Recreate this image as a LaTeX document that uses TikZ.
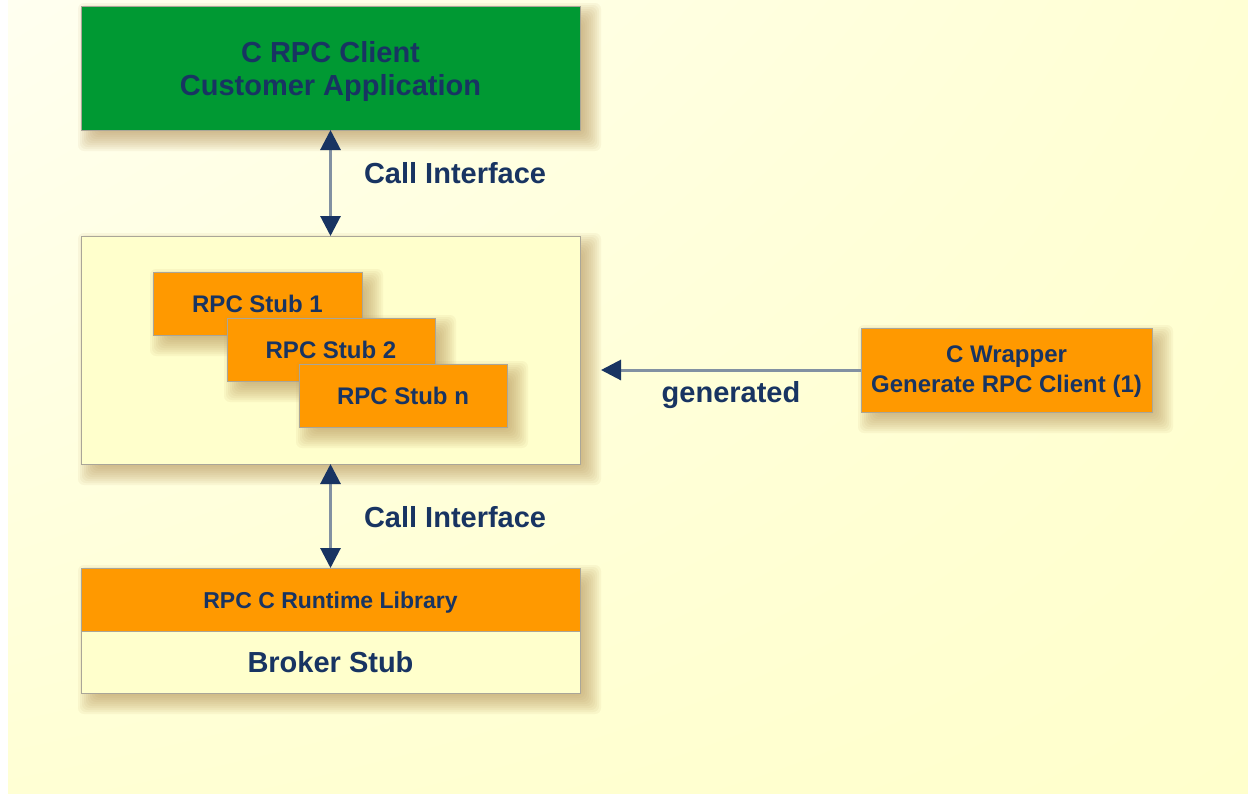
\documentclass[tikz,border=0pt]{standalone}
\usepackage{fontspec}
\setmainfont{Liberation Sans}
\usetikzlibrary{arrows.meta,calc,shadings}
\definecolor{navy}{RGB}{24,52,98}
\definecolor{shaft}{RGB}{130,145,162}
\definecolor{greenfill}{RGB}{0,153,51}
\definecolor{orangefill}{RGB}{255,153,0}
\definecolor{creamfill}{RGB}{255,255,204}
\definecolor{boxline}{RGB}{170,166,152}
\definecolor{shadowc}{RGB}{180,145,85}
\definecolor{bgA}{RGB}{255,255,240}
\definecolor{bgB}{RGB}{255,255,212}
\definecolor{bgC}{RGB}{255,255,204}

\newcommand\dropshadow[2]{%
  \foreach \sr [evaluate=\sr as \sa using 9-\sr, evaluate=\sr as \sb using 9+\sr] in {-10,-8,...,12}{%
    \fill[shadowc, fill opacity=0.078, rounded corners=6pt] ($(#1)+(\sa,\sa)$) rectangle ($(#2)+(\sb,\sb)$);
  }%
}
\newcommand\sinktext[2]{\raisebox{-#1pt}[\height][\depth]{#2}}

\begin{document}
\begin{tikzpicture}[x=1pt,y=-1pt,
  every node/.style={text=navy, font=\bfseries},
  bigtxt/.style={font=\bfseries\fontsize{29}{33}\selectfont},
  smalltxt/.style={font=\bfseries\fontsize{24}{30}\selectfont},
  panel/.style={draw=boxline, line width=1pt, inner sep=0pt, outer sep=0pt, align=center},
  conn/.style={draw=shaft, line width=3pt},
  tip/.tip={Triangle[length=20pt, width=20pt, color=navy]},
  lbl/.style={bigtxt, anchor=west, inner sep=0pt, xshift=32pt}
]
\useasboundingbox (0,0) rectangle (1248,793);
\fill[white] (0,0) rectangle (8,793);
\shade[upper left=bgA, upper right=bgB, lower left=bgB, lower right=bgC] (8,0) rectangle (1248,793);

\dropshadow{81,6}{580,130}
\node[panel, fill=greenfill, bigtxt, minimum width=499, minimum height=124] (client) at (330.5,68) {\sinktext{3}{C RPC Client}\\\sinktext{3}{Customer Application}};

\dropshadow{81,236}{580,464}
\node[panel, fill=creamfill, minimum width=499, minimum height=228] (middle) at (330.5,350) {};

\dropshadow{153,272}{362,335}
\node[panel, fill=orangefill, smalltxt, minimum width=209, minimum height=63] (stub1) at (257.5,303.5) {RPC Stub 1};
\dropshadow{227,318}{435,381}
\node[panel, fill=orangefill, smalltxt, minimum width=208, minimum height=63] (stub2) at (331,349.5) {RPC Stub 2};
\dropshadow{299,364}{507,427}
\node[panel, fill=orangefill, smalltxt, minimum width=208, minimum height=63] (stubn) at (403,395.5) {RPC Stub n};

\dropshadow{861,328}{1152,412}
\node[panel, fill=orangefill, smalltxt, minimum width=291, minimum height=84] (wrapper) at (1006.5,370) {\sinktext{2}{C Wrapper}\\\sinktext{2}{Generate RPC Client (1)}};

\dropshadow{81,568}{580,693}
\node[panel, fill=orangefill, font=\bfseries\fontsize{23}{28}\selectfont, minimum width=499, minimum height=63] (runtime) at (330.5,599.5) {\sinktext{3}{RPC C Runtime Library}};
\node[panel, fill=creamfill, bigtxt, minimum width=499, minimum height=62, anchor=north] (broker) at (runtime.south) {Broker Stub};

\draw[conn, tip-tip] (client.south) -- node[lbl, pos=0.405] {Call Interface} (middle.north);
\draw[conn, tip-tip] (middle.south) -- node[lbl, pos=0.51] {Call Interface} (runtime.north);
\draw[conn, -tip] (wrapper.west) -- node[bigtxt, midway, yshift=-25pt] {generated} ([xshift=21pt]wrapper.west -| middle.east);
\end{tikzpicture}
\end{document}
